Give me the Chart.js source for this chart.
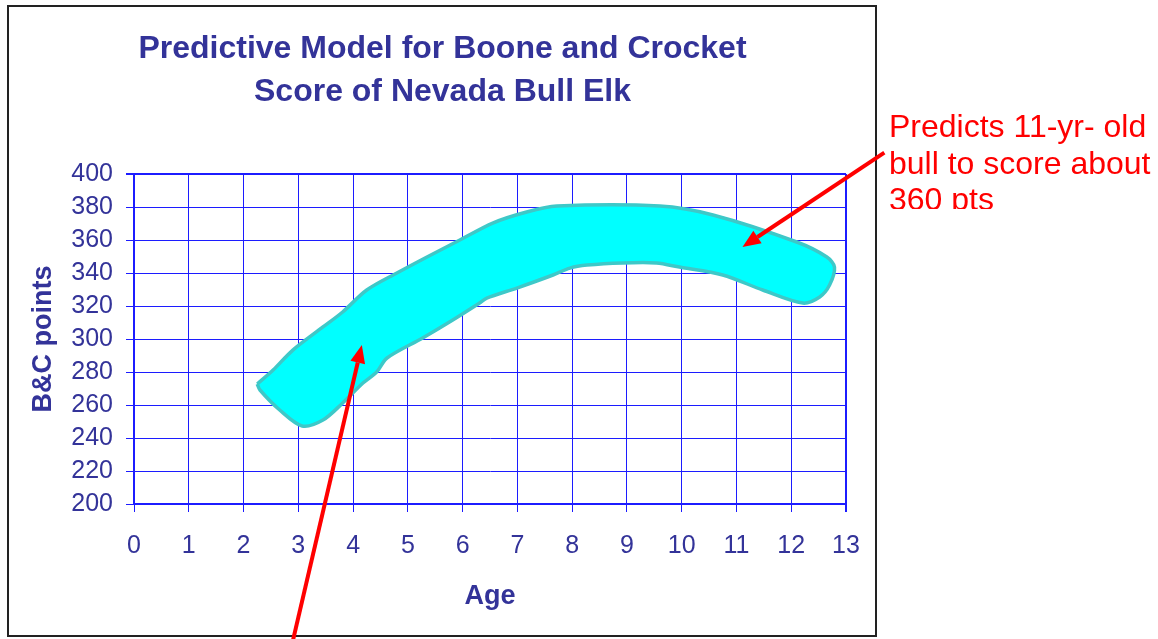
<!DOCTYPE html>
<html>
<head>
<meta charset="utf-8">
<script src="https://cdn.jsdelivr.net/npm/chart.js@4.4.1/dist/chart.umd.min.js"></script>
<style>
  html, body { margin: 0; padding: 0; background: #fff; }
  #wrap { position: relative; width: 1158px; height: 639px; }
</style>
</head>
<body>
<div id="wrap"><canvas id="elk-chart" width="1158" height="639"></canvas></div>
<script>
// axis ticks
const ageTicks = [0, 1, 2, 3, 4, 5, 6, 7, 8, 9, 10, 11, 12, 13];
const scoreTicks = [200, 220, 240, 260, 280, 300, 320, 340, 360, 380, 400];

// outline of the hand drawn prediction band (upper edge left->right, lower edge back)
const bandAge = [2.25, 2.54, 2.90, 3.45, 3.81, 4.25, 4.80, 5.35, 5.95, 6.55, 7.17, 7.72, 9.60, 10.57, 12.10, 12.65, 12.79,
  12.70, 12.52, 12.21, 11.48, 10.75, 9.96, 9.54, 8.92, 8.27, 7.96, 7.65, 6.99, 6.44, 6.31, 5.82, 5.27, 4.62, 4.43, 4.18, 3.81, 3.45, 3.07, 2.66, 2.30, 2.25];
const bandScore = [272.7, 281.2, 293.3, 307.3, 316.4, 329.7, 340, 349.7, 360, 370.3, 377, 380.6, 380.6, 375.2, 358.8, 349.7, 343.6,
  332.7, 325.5, 321.8, 329.7, 338.8, 343.6, 346.1, 346.1, 344.8, 343, 338.8, 330.9, 324.8, 321.8, 311.5, 300.6, 288.5, 280, 273.3, 261.2, 250.9, 247.3, 257, 269.1, 272.7];

// red call-out arrows, [age, score] from tail to tip
const arrowTails = [[2.90, 117], [13.70, 413]];
const arrowTips = [[4.16, 296.4], [11.11, 355.8]];
const noteLines = ["Predicts 11-yr- old", "bull to score about", "360 pts"];

const navy = "#333399";
const gridBlue = "#1c1cff";
const fontFamily = "'Liberation Sans', Arial, sans-serif";

const bandPoints = bandAge.map((a, i) => ({ x: a, y: bandScore[i] }));

function drawArrow(ctx, x1, y1, x2, y2) {
  const ang = Math.atan2(y2 - y1, x2 - x1);
  const headLen = 18, headHalf = 7.5;
  const bx = x2 - headLen * Math.cos(ang), by = y2 - headLen * Math.sin(ang);
  ctx.strokeStyle = "#ff0000";
  ctx.fillStyle = "#ff0000";
  ctx.lineWidth = 4;
  ctx.beginPath();
  ctx.moveTo(x1, y1);
  ctx.lineTo(bx, by);
  ctx.stroke();
  ctx.beginPath();
  ctx.moveTo(x2, y2);
  ctx.lineTo(bx + headHalf * Math.sin(ang), by - headHalf * Math.cos(ang));
  ctx.lineTo(bx - headHalf * Math.sin(ang), by + headHalf * Math.cos(ang));
  ctx.closePath();
  ctx.fill();
}

const overlay = {
  id: "overlay",
  afterDraw(chart) {
    const { ctx, scales } = chart;
    const xs = scales.x, ys = scales.y;
    ctx.save();
    // outer frame of the chart box
    ctx.strokeStyle = "#222";
    ctx.lineWidth = 2;
    ctx.strokeRect(8, 6, 868, 630);

    arrowTails.forEach((t, i) => {
      const p = arrowTips[i];
      drawArrow(ctx, xs.getPixelForValue(t[0]), ys.getPixelForValue(t[1]),
        xs.getPixelForValue(p[0]), ys.getPixelForValue(p[1]));
    });

    // note text, last line is cut off like in the original text box
    ctx.beginPath();
    ctx.rect(880, 90, 278, 119);
    ctx.clip();
    ctx.fillStyle = "#ff0000";
    ctx.font = "32px " + fontFamily;
    ctx.textAlign = "left";
    ctx.textBaseline = "alphabetic";
    noteLines.forEach((line, i) => ctx.fillText(line, 889, 137 + i * 36.5));
    ctx.restore();
  }
};

new Chart(document.getElementById("elk-chart"), {
  type: "line",
  data: {
    datasets: [{
      data: bandPoints,
      borderColor: "#3ec8c8",
      backgroundColor: "#00ffff",
      borderWidth: 3.5,
      fill: "shape",
      tension: 0.3,
      pointRadius: 0,
      pointHoverRadius: 0
    }]
  },
  options: {
    responsive: false,
    animation: false,
    layout: { padding: { left: 9, top: 7, right: 282, bottom: 3 } },
    plugins: {
      legend: { display: false },
      tooltip: { enabled: false },
      title: {
        display: true,
        text: ["Predictive Model for Boone and Crocket", "Score of Nevada Bull Elk"],
        color: navy,
        font: { family: fontFamily, size: 32, weight: "bold", lineHeight: 1.36 },
        padding: { top: 20, bottom: 60 }
      }
    },
    scales: {
      x: {
        type: "linear",
        min: 0,
        max: 13,
        afterBuildTicks: (s) => { s.ticks = ageTicks.map((v) => ({ value: v })); },
        afterFit: (s) => { s.height = 132; },
        grid: {
          color: gridBlue,
          lineWidth: (c) => (c.tick && c.tick.value === 13 ? 2 : 1),
          tickLength: 8
        },
        border: { color: gridBlue, width: 2 },
        ticks: {
          color: navy,
          font: { family: fontFamily, size: 25 },
          padding: 19,
          maxRotation: 0,
          autoSkip: false
        },
        title: {
          display: true,
          text: "Age",
          color: navy,
          font: { family: fontFamily, size: 27, weight: "bold" },
          padding: { top: 0, bottom: 23 }
        }
      },
      y: {
        min: 200,
        max: 400,
        afterBuildTicks: (s) => { s.ticks = scoreTicks.map((v) => ({ value: v })); },
        afterFit: (s) => { s.width = 125; },
        grid: {
          color: gridBlue,
          lineWidth: (c) => (c.tick && c.tick.value === 400 ? 2 : 1),
          tickLength: 8
        },
        border: { color: gridBlue, width: 2 },
        ticks: {
          color: navy,
          font: { family: fontFamily, size: 25 },
          padding: 13,
          autoSkip: false
        },
        title: {
          display: true,
          text: "B&C points",
          color: navy,
          font: { family: fontFamily, size: 27, weight: "bold" },
          padding: { top: 18, bottom: 0 }
        }
      },
      // empty right-hand strip so the plot stops short of the frame
      spacer: {
        position: "right",
        min: 0,
        max: 1,
        afterFit: (s) => { s.width = 30; },
        grid: { display: false },
        border: { display: false },
        ticks: { display: false }
      }
    }
  },
  plugins: [overlay]
});
</script>
</body>
</html>
